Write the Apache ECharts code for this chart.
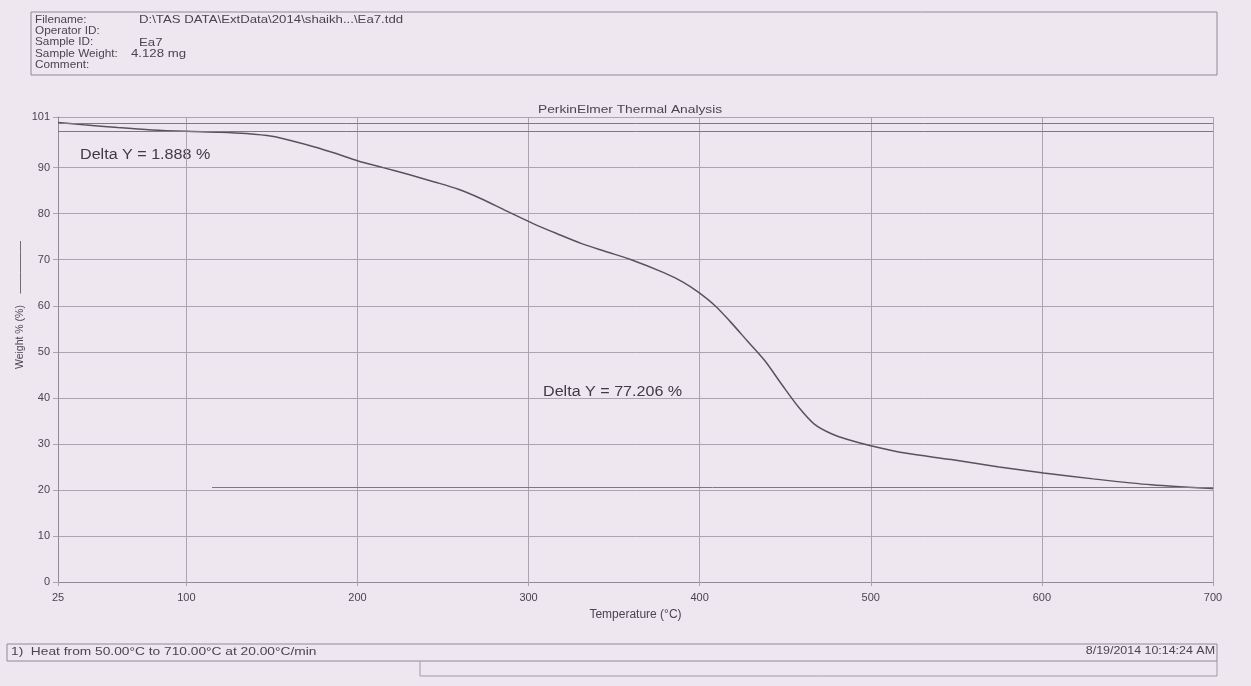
<!DOCTYPE html>
<html>
<head>
<meta charset="utf-8">
<title>PerkinElmer Thermal Analysis</title>
<script src="https://cdn.jsdelivr.net/npm/echarts@6/dist/echarts.min.js"></script>
<style>
html, body { margin: 0; padding: 0; background: #eee7f0; }
#chart { width: 1251px; height: 686px; }
</style>
</head>
<body>
<div id="chart"></div>
<script>
// TGA curve (temperature in °C, weight in %)
const temps = [25, 40, 60, 80, 100, 120, 135, 150, 162, 175, 188, 200, 215, 230, 245, 259, 272, 287, 303, 317, 331, 345, 360, 379, 390, 399, 409, 418, 428, 438, 448, 458, 467, 477, 487, 500, 520, 547, 575, 601, 630, 664, 700]
const weights = [99.8, 99.3, 98.7, 98.2, 97.9, 97.7, 97.4, 96.8, 95.8, 94.5, 93.0, 91.5, 90.0, 88.5, 86.9, 85.3, 83.3, 80.6, 77.8, 75.6, 73.5, 71.8, 70.0, 67.2, 65.2, 63.0, 60.0, 56.5, 52.3, 48.1, 42.9, 37.9, 34.3, 32.2, 30.9, 29.6, 28.0, 26.6, 25.0, 23.7, 22.4, 21.1, 20.3]

const xTicks = [25, 100, 200, 300, 400, 500, 600, 700]
const yTicks = [0, 10, 20, 30, 40, 50, 60, 70, 80, 90, 101]

// Delta Y step markers
const stepLevels = [99.7, 97.8] // Delta Y = 1.888 %
const baseLevel = 20.6 // Delta Y = 77.206 %
const baseFrom = 115

const headerRows = [
  ['Filename:', 'D:\\TAS DATA\\ExtData\\2014\\shaikh...\\Ea7.tdd'],
  ['Operator ID:', ''],
  ['Sample ID:', 'Ea7'],
  ['Sample Weight:', '4.128 mg'],
  ['Comment:', '']
]

const ink = '#4a4550'
const gridGray = '#aaa5b0'
const font = 'Liberation Sans, Arial, sans-serif'

const myChart = echarts.init(document.getElementById('chart'))

// printout text is a bit wider than it is tall in the photo, so stretch it
function txt (x, y, text, size, opts) {
  opts = opts || {}
  return {
    type: 'text',
    x: x,
    y: y,
    scaleX: opts.sx || 1.2,
    style: {
      text: text,
      fill: opts.color || ink,
      font: size + 'px ' + font,
      align: opts.align || 'left',
      verticalAlign: 'middle'
    }
  }
}

const graphics = []
// header box
graphics.push({
  type: 'rect',
  shape: { x: 31, y: 12, width: 1186, height: 63 },
  style: { fill: 'none', stroke: '#8f8a95', lineWidth: 1 }
})
headerRows.forEach((row, i) => {
  const y = 20 + i * 11.3
  graphics.push(txt(35, y, row[0], 10.5, { sx: 1.12 }))
  graphics.push(txt(row[0] === 'Sample Weight:' ? 131 : 139, y, row[1], 11))
})
// plot title
graphics.push(txt(538, 110, 'PerkinElmer Thermal Analysis', 11, { sx: 1.25 }))
// annotations
graphics.push(txt(80, 155, 'Delta Y = 1.888 %', 14, { sx: 1.15, color: '#3f3a45' }))
graphics.push(txt(543, 392, 'Delta Y = 77.206 %', 14, { sx: 1.15, color: '#3f3a45' }))
// y axis name
graphics.push({
  type: 'text', x: 20, y: 305, rotation: Math.PI / 2,
  style: { text: 'Weight % (%)    —————', fill: ink, font: '10.5px ' + font, align: 'center', verticalAlign: 'middle' }
})
// footer
graphics.push({
  type: 'rect',
  shape: { x: 7, y: 644, width: 1210, height: 17 },
  style: { fill: 'none', stroke: '#8f8a95', lineWidth: 1 }
})
graphics.push({
  type: 'polyline',
  shape: { points: [[420, 661], [420, 676], [1217, 676], [1217, 661]] },
  style: { fill: 'none', stroke: '#a09ba6', lineWidth: 1 }
})
graphics.push(txt(11, 652, '1)  Heat from 50.00°C to 710.00°C at 20.00°C/min', 11, { sx: 1.25 }))
graphics.push(txt(1215, 651, '8/19/2014 10:14:24 AM', 11, { sx: 1.13, align: 'right' }))

const option = {
  backgroundColor: '#eee7f0',
  animation: false,
  grid: { left: 58, right: 38, top: 117, bottom: 104 },
  xAxis: {
    type: 'value',
    min: 25,
    max: 700,
    name: 'Temperature (°C)',
    nameLocation: 'middle',
    nameGap: 27,
    nameTextStyle: { color: ink, fontSize: 12, fontFamily: font },
    axisLine: { lineStyle: { color: '#8f8a95' } },
    axisTick: { show: true, length: 4, customValues: xTicks, lineStyle: { color: gridGray } },
    axisLabel: { customValues: xTicks, color: ink, fontSize: 11, fontFamily: font, margin: 10 },
    splitLine: { show: true, lineStyle: { color: gridGray, width: 1 } }
  },
  yAxis: {
    type: 'value',
    min: 0,
    max: 101,
    axisLine: { show: true, lineStyle: { color: '#8f8a95' } },
    axisTick: { show: true, length: 5, customValues: yTicks, lineStyle: { color: gridGray } },
    axisLabel: { customValues: yTicks, color: ink, fontSize: 11, fontFamily: font, margin: 8 },
    splitLine: { show: true, lineStyle: { color: gridGray, width: 1 } }
  },
  series: [
    {
      name: 'Weight',
      type: 'line',
      data: temps.map((t, i) => [t, weights[i]]),
      smooth: 0.3,
      showSymbol: false,
      lineStyle: { color: '#58535e', width: 1.5 },
      markLine: {
        silent: true,
        symbol: 'none',
        label: { show: false },
        lineStyle: { color: '#7d7883', width: 1, type: 'solid' },
        data: stepLevels.map(v => ({ yAxis: v })).concat([
          [{ coord: [baseFrom, baseLevel] }, { coord: [700, baseLevel] }]
        ])
      }
    }
  ],
  graphic: graphics
}

myChart.setOption(option)
</script>
</body>
</html>
